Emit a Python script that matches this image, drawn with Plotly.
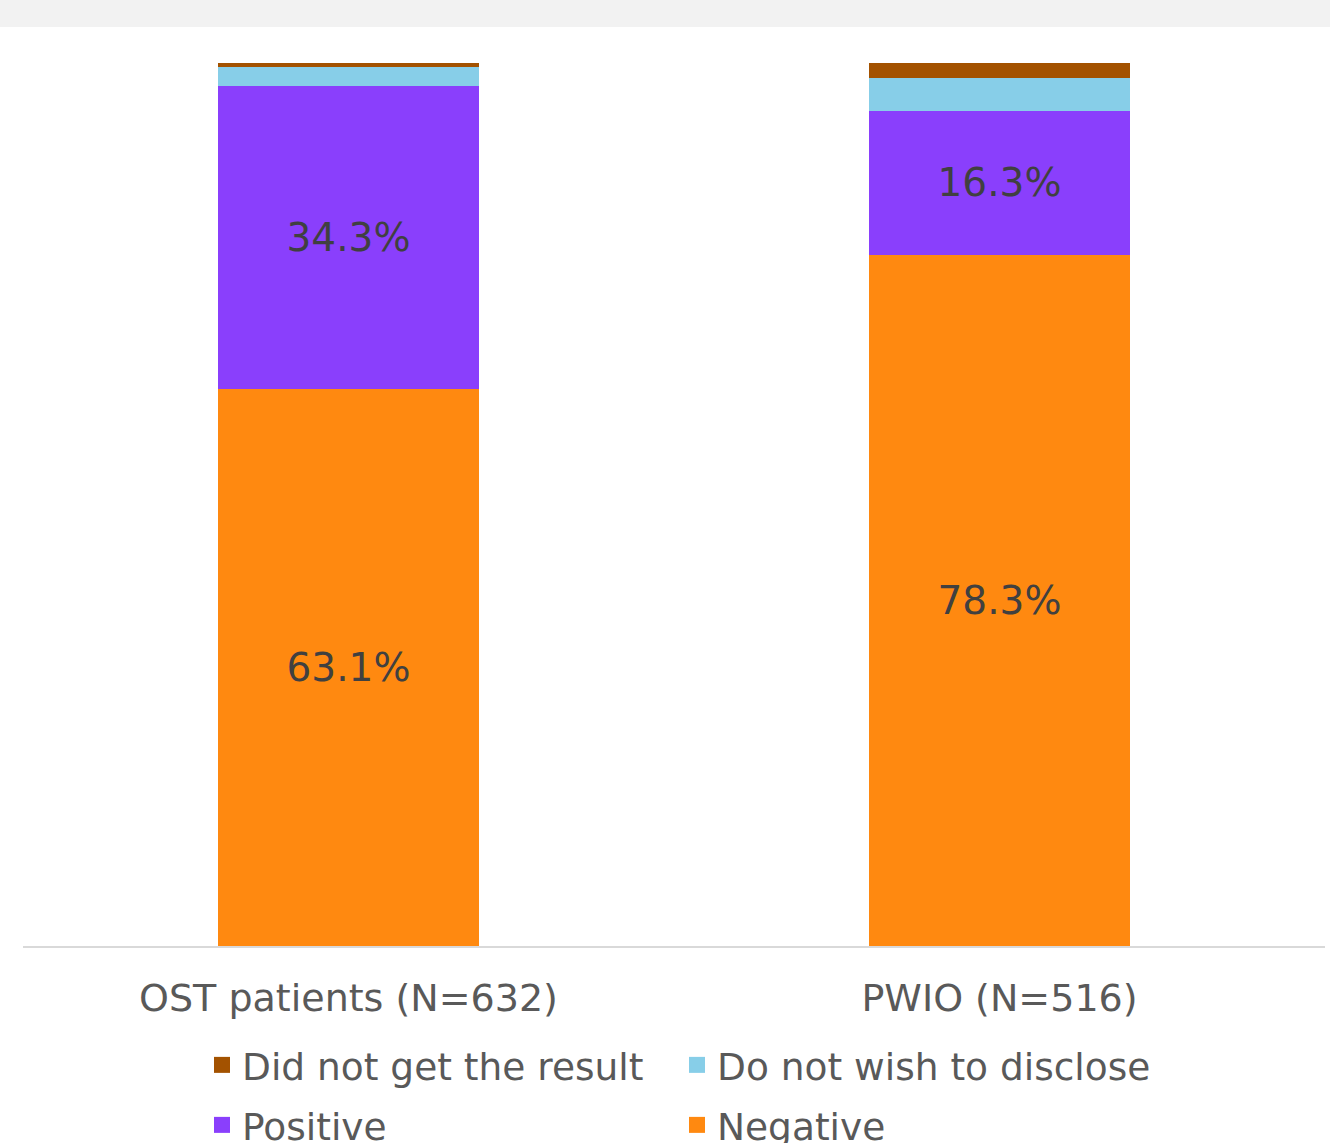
import plotly.graph_objects as go

categories = ["OST patients (N=632)", "PWIO (N=516)"]
series_names = ["Negative", "Positive", "Do not wish to disclose", "Did not get the result"]
negative = [63.1, 78.3]
positive = [34.3, 16.3]
not_disclose = [2.2, 3.7]
no_result = [0.4, 1.7]
colors = ["#FF8910", "#8A3FFC", "#87CEE8", "#A35200"]
show_labels = [True, True, False, False]

values = [negative, positive, not_disclose, no_result]

W, H = 1330, 1143
ml, mr, mt, mb = 23, 5, 63, 197
font_family = "DejaVu Sans, Verdana, sans-serif"
ph = H - mt - mb
pw = W - ml - mr

# legend slot for each series: (column left px, row centre px)
legend_ids = ["legend4", "legend3", "legend2", "legend"]
legend_pos = [(677, 1125), (202, 1125), (677, 1065), (202, 1065)]

fig = go.Figure()
for name, vals, col, lab, lg in zip(series_names, values, colors, show_labels, legend_ids):
    fig.add_trace(go.Bar(
        x=categories, y=vals, name=name,
        marker=dict(color=col, line=dict(width=0)),
        text=[f"{v:.1f}%" for v in vals] if lab else None,
        textposition="inside" if lab else "none",
        insidetextanchor="middle",
        textfont=dict(family=font_family, size=39, color="#404040"),
        hoverinfo="skip",
        showlegend=False,
    ))
    fig.add_trace(go.Scatter(
        x=[None], y=[None], mode="markers", name=name,
        marker=dict(symbol="square", size=16, color=col),
        showlegend=True, legend=lg,
    ))

fig.add_shape(type="rect", xref="paper", yref="paper",
              x0=-ml / pw, x1=(W - ml) / pw,
              y0=(H - mb - 27) / ph, y1=(H - mb + 5) / ph,
              fillcolor="#F2F2F2", line=dict(width=0), layer="below")

legend_layout = {}
for lg, (px, py) in zip(legend_ids, legend_pos):
    legend_layout[lg] = dict(
        orientation="h",
        x=(px - ml) / pw, xanchor="left",
        y=-(py - (H - mb)) / ph, yanchor="middle",
        font=dict(family=font_family, size=37.5, color="#595959"),
        bgcolor="rgba(0,0,0,0)",
    )

fig.update_layout(
    width=W, height=H,
    margin=dict(l=ml, r=mr, t=mt, b=mb, autoexpand=False),
    barmode="stack", bargap=0.6,
    plot_bgcolor="white", paper_bgcolor="white",
    font=dict(family=font_family, color="#595959"),
    xaxis=dict(
        showline=True, linecolor="#D9D9D9", linewidth=2,
        ticks="", ticklabelstandoff=17,
        tickfont=dict(family=font_family, size=38, color="#595959"),
        showgrid=False, range=[-0.5, 1.5],
    ),
    yaxis=dict(range=[0, 100], visible=False, showgrid=False, zeroline=False),
    **legend_layout,
)

fig.write_html("out.html")
